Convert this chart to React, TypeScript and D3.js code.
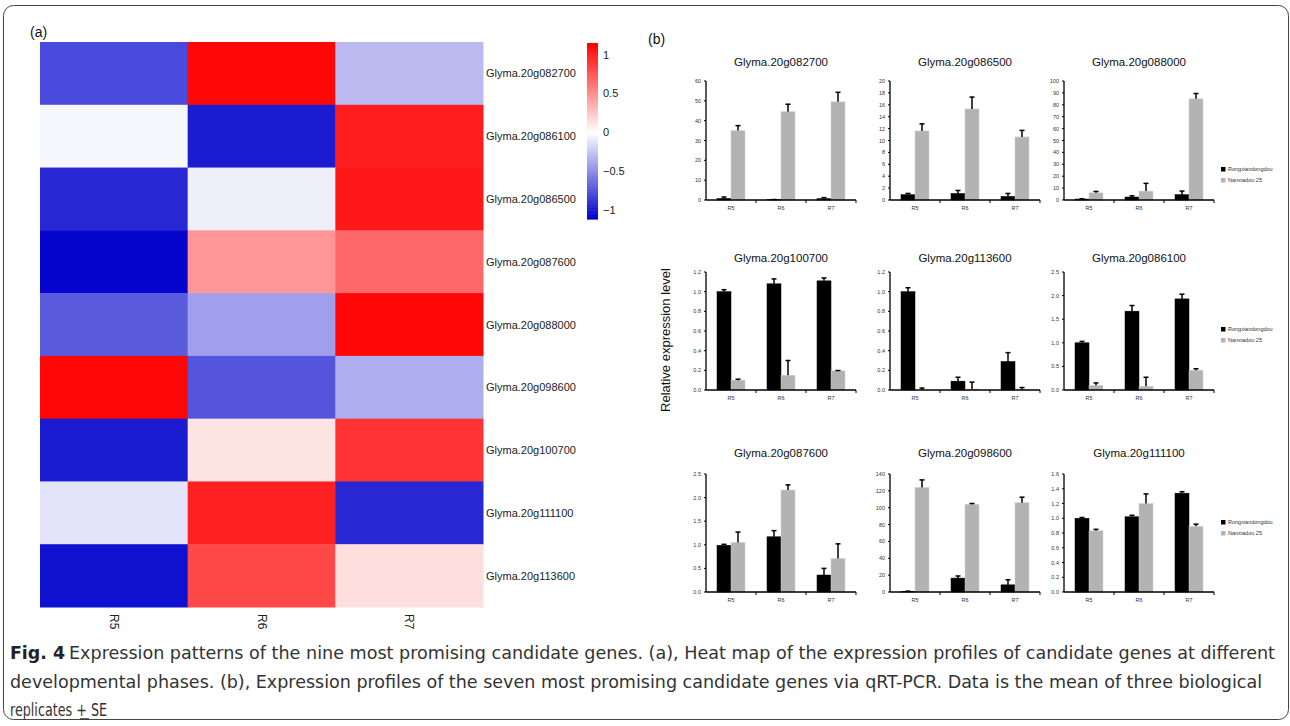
import React from "react";
import * as d3 from "d3";

// heat map (a)
const stages = ["R5", "R6", "R7"];
const heatGenes = [
  "Glyma.20g082700",
  "Glyma.20g086100",
  "Glyma.20g086500",
  "Glyma.20g087600",
  "Glyma.20g088000",
  "Glyma.20g098600",
  "Glyma.20g100700",
  "Glyma.20g111100",
  "Glyma.20g113600",
];
const heatValues = [
  [-0.8, 1.12, -0.3],
  [-0.04, -1.0, 1.02],
  [-0.95, -0.07, 1.04],
  [-1.1, 0.48, 0.68],
  [-0.72, -0.42, 1.12],
  [1.12, -0.75, -0.36],
  [-1.0, 0.12, 0.92],
  [-0.12, 1.0, -0.95],
  [-1.05, 0.82, 0.15],
];
const colorTicks = [1, 0.5, 0, -0.5, -1];

// bar panels (b)
const barGenes = [
  "Glyma.20g082700",
  "Glyma.20g086500",
  "Glyma.20g088000",
  "Glyma.20g100700",
  "Glyma.20g113600",
  "Glyma.20g086100",
  "Glyma.20g087600",
  "Glyma.20g098600",
  "Glyma.20g111100",
];
const barYMax = [60, 20, 100, 1.2, 1.2, 2.5, 2.5, 140, 1.6];
const barYStep = [10, 2, 10, 0.2, 0.2, 0.5, 0.5, 20, 0.2];
const rongMean = [
  [0.8, 0.2, 0.7],
  [0.9, 1.1, 0.6],
  [0.8, 2.5, 4.5],
  [1.0, 1.08, 1.11],
  [1.0, 0.09, 0.29],
  [1.0, 1.67, 1.93],
  [0.99, 1.17, 0.36],
  [0.5, 16.5, 8.5],
  [1.0, 1.02, 1.34],
];
const rongSE = [
  [0.7, 0.05, 0.5],
  [0.2, 0.5, 0.5],
  [0.2, 1.0, 3.0],
  [0.02, 0.05, 0.03],
  [0.04, 0.04, 0.09],
  [0.03, 0.12, 0.1],
  [0.02, 0.13, 0.14],
  [0.5, 2.5, 6],
  [0.01, 0.02, 0.02],
];
const nanMean = [
  [35, 44.5, 49.5],
  [11.6, 15.3, 10.6],
  [6, 7.5, 85],
  [0.1, 0.15, 0.195],
  [0.0, 0.01, 0.005],
  [0.1, 0.08, 0.42],
  [1.05, 2.16, 0.71],
  [124, 104, 106],
  [0.83, 1.2, 0.89],
];
const nanSE = [
  [2.5, 3.8, 4.8],
  [1.2, 2.0, 1.1],
  [1.2, 6.5, 4.5],
  [0.01, 0.15, 0.003],
  [0.02, 0.07, 0.02],
  [0.05, 0.19, 0.03],
  [0.22, 0.11, 0.31],
  [9, 1, 6.5],
  [0.02, 0.13, 0.03],
];
const seriesNames = ["Rongxiandongdou", "Nanxiadou 25"];
const seriesColors = ["#000000", "#b3b3b3"];

const SANS = "Liberation Sans, Arial, sans-serif";

// layout
const heat = { left: 40, right: 483, top: 42, bottom: 607 };
const cbar = { x: 587, w: 11, top: 43, bottom: 219 };
const colX = [706, 890, 1064];
const rowTop = [81, 272, 474];
const rowBottom = [200, 390, 592];
const titleY = [66, 262, 457];
const legendY = [171, 331, 524];
const plotW = 150;

const colorScale = d3
  .scaleLinear<string>()
  .domain([-1.12, 0, 1.15])
  .range(["#0000cc", "#ffffff", "#ff0000"])
  .interpolate(d3.interpolateRgb)
  .clamp(true);

function HeatMap() {
  const x = d3.scaleBand().domain(stages).range([heat.left, heat.right]);
  const y = d3.scaleBand().domain(heatGenes).range([heat.top, heat.bottom]);
  const cy = d3.scaleLinear().domain([-1.12, 1.15]).range([cbar.bottom, cbar.top]);
  const steps = d3.range(0, 120);
  return (
    <g>
      {heatGenes.map((g, i) =>
        stages.map((s, j) => (
          <rect
            key={g + s}
            x={x(s)}
            y={y(g)}
            width={x.bandwidth() + 0.5}
            height={y.bandwidth() + 0.5}
            fill={colorScale(heatValues[i][j])}
          />
        ))
      )}
      {heatGenes.map((g) => (
        <text key={g} x={heat.right + 3} y={(y(g) ?? 0) + y.bandwidth() / 2 + 4} fontSize={11} fontFamily={SANS} fill="#222">
          {g}
        </text>
      ))}
      {stages.map((s) => {
        const cx = (x(s) ?? 0) + x.bandwidth() / 2;
        return (
          <text key={s} transform={`translate(${cx - 4},${heat.bottom + 7}) rotate(90)`} fontSize={12} fontFamily={SANS} fill="#222">
            {s}
          </text>
        );
      })}
      {steps.map((k) => {
        const v0 = -1.12 + (k / steps.length) * 2.27;
        const v1 = -1.12 + ((k + 1) / steps.length) * 2.27;
        return (
          <rect key={k} x={cbar.x} y={cy(v1)} width={cbar.w} height={cy(v0) - cy(v1) + 0.6} fill={colorScale((v0 + v1) / 2)} />
        );
      })}
      {colorTicks.map((t) => (
        <text key={t} x={cbar.x + 16} y={cy(t) + 4} fontSize={11} fontFamily={SANS} fill="#222">
          {t < 0 ? "\u2212" + Math.abs(t) : String(t)}
        </text>
      ))}
    </g>
  );
}

function BarPanel({ idx }: { idx: number }) {
  const col = idx % 3;
  const row = Math.floor(idx / 3);
  const x0 = colX[col];
  const top = rowTop[row];
  const bottom = rowBottom[row];
  const yMax = barYMax[idx];
  const y = d3.scaleLinear().domain([0, yMax]).range([bottom, top]);
  const x = d3.scaleBand().domain(stages).range([x0, x0 + plotW]);
  const inner = d3.scaleBand().domain(["0", "1"]).range([x.bandwidth() / 2 - 14, x.bandwidth() / 2 + 14]);
  const ticks = d3.range(0, yMax + barYStep[idx] / 2, barYStep[idx]);
  const fmt = barYStep[idx] < 1 ? d3.format(".1f") : d3.format("d");
  const series = [
    { m: rongMean[idx], e: rongSE[idx] },
    { m: nanMean[idx], e: nanSE[idx] },
  ];
  return (
    <g>
      <text x={x0 + plotW / 2} y={titleY[row]} textAnchor="middle" fontSize={11.5} fontFamily={SANS} fill="#111">
        {barGenes[idx]}
      </text>
      {series.map((s, si) =>
        stages.map((st, j) => {
          const bx = (x(st) ?? 0) + (inner(String(si)) ?? 0);
          const bw = inner.bandwidth();
          const v = s.m[j];
          return (
            <g key={si + st}>
              <rect x={bx} y={y(v)} width={bw} height={bottom - y(v)} fill={seriesColors[si]} stroke={si ? "#d0d0d0" : "#000"} strokeWidth={0.5} />
              <line x1={bx + bw / 2} x2={bx + bw / 2} y1={y(v)} y2={y(v + s.e[j])} stroke="#000" strokeWidth={1.5} />
              <line x1={bx + bw / 2 - 2.5} x2={bx + bw / 2 + 2.5} y1={y(v + s.e[j])} y2={y(v + s.e[j])} stroke="#000" strokeWidth={1.5} />
            </g>
          );
        })
      )}
      <line x1={x0} x2={x0} y1={top} y2={bottom} stroke="#000" strokeWidth={1.3} />
      <line x1={x0} x2={x0 + plotW} y1={bottom} y2={bottom} stroke="#000" strokeWidth={1.5} />
      {ticks.map((t) => (
        <g key={t}>
          <line x1={x0 - 2} x2={x0} y1={y(t)} y2={y(t)} stroke="#000" strokeWidth={1} />
          <text x={x0 - 5} y={y(t) + 2} textAnchor="end" fontSize={5.5} fontFamily={SANS} fill="#333">
            {fmt(t)}
          </text>
        </g>
      ))}
      {stages.map((st) => (
        <g key={st}>
          <line x1={(x(st) ?? 0) + x.bandwidth()} x2={(x(st) ?? 0) + x.bandwidth()} y1={bottom} y2={bottom + 3} stroke="#000" strokeWidth={1} />
          <text x={(x(st) ?? 0) + x.bandwidth() / 2} y={bottom + 10} textAnchor="middle" fontSize={5.5} fontFamily={SANS} fill="#333">
            {st}
          </text>
        </g>
      ))}
    </g>
  );
}

function Legend({ row }: { row: number }) {
  return (
    <g>
      {seriesNames.map((n, i) => (
        <g key={n}>
          <rect x={1221} y={legendY[row] + i * 11 - 4} width={4.5} height={4.5} fill={seriesColors[i]} />
          <text x={1228} y={legendY[row] + i * 11} fontSize={5.5} fontFamily={SANS} fill="#333">
            {n}
          </text>
        </g>
      ))}
    </g>
  );
}

export default function App() {
  const capFont = "Liberation Sans Narrow, DejaVu Sans Condensed, Arial Narrow, sans-serif";
  return (
    <div style={{ position: "fixed", left: 0, top: 0 }}>
      <svg width={1290} height={726} style={{ display: "block", background: "#fff" }}>
        <rect x={3.5} y={5.5} width={1285} height={714} rx={10} fill="none" stroke="#444" strokeWidth={1} />
        <text x={30} y={37} fontSize={14} fontFamily={SANS} fill="#111">(a)</text>
        <text x={648} y={44} fontSize={14} fontFamily={SANS} fill="#111">(b)</text>
        <HeatMap />
        {barGenes.map((_, i) => (
          <BarPanel key={i} idx={i} />
        ))}
        {[0, 1, 2].map((r) => (
          <Legend key={r} row={r} />
        ))}
        <text transform="translate(670,340) rotate(-90)" textAnchor="middle" fontSize={13} fontFamily={SANS} fill="#111">
          Relative expression level
        </text>
        <text x={10} y={659} fontSize={18} fontFamily={capFont} fontWeight="bold" fill="#222" textLength={55} lengthAdjust="spacingAndGlyphs">
          Fig. 4
        </text>
        <text x={69} y={659} fontSize={18} fontFamily={capFont} fill="#333" textLength={1206} lengthAdjust="spacingAndGlyphs">
          Expression patterns of the nine most promising candidate genes. (a), Heat map of the expression profiles of candidate genes at different
        </text>
        <text x={10} y={688} fontSize={18} fontFamily={capFont} fill="#333" textLength={1252} lengthAdjust="spacingAndGlyphs">
          developmental phases. (b), Expression profiles of the seven most promising candidate genes via qRT-PCR. Data is the mean of three biological
        </text>
        <text x={10} y={716} fontSize={18} fontFamily={capFont} fill="#333" textLength={97} lengthAdjust="spacingAndGlyphs">
          replicates + SE
        </text>
        <line x1={80} x2={89} y1={719} y2={719} stroke="#333" strokeWidth={1.5} />
      </svg>
    </div>
  );
}
